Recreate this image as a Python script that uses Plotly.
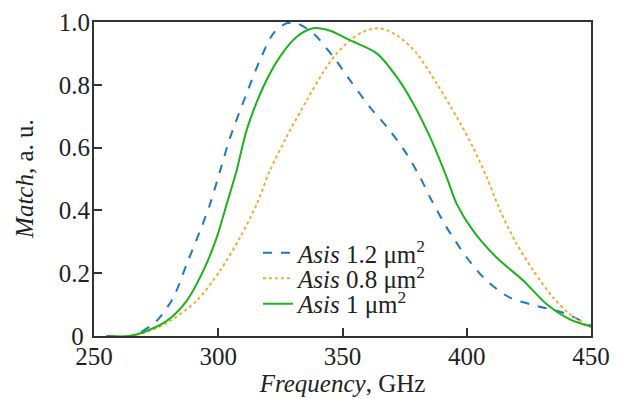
import plotly.graph_objects as go

freq_blue = [255, 264.5, 268.5, 275.2, 281.9, 287.3, 292.7, 296.7, 300.7, 304.7, 311.4, 316.8, 322.2, 327.5, 331.6, 338.2, 346.3, 353, 361, 369, 375.8, 381.2, 385.2, 391.9, 400, 408, 417.4, 428.1, 438.9, 450]
match_blue = [0, 0.0, 0.011, 0.048, 0.122, 0.229, 0.335, 0.42, 0.525, 0.63, 0.772, 0.879, 0.964, 0.996, 0.996, 0.964, 0.889, 0.815, 0.729, 0.655, 0.58, 0.506, 0.442, 0.346, 0.25, 0.176, 0.122, 0.096, 0.074, 0.033]

freq_orange = [255, 264.5, 272.5, 280.6, 291.3, 300.7, 308.8, 315.5, 320.8, 327.5, 335.6, 343.6, 347.7, 353, 358.4, 365, 371.8, 379.9, 387.9, 396, 402.6, 408, 413.4, 420.1, 426.8, 434.8, 441.5, 450]
match_orange = [0, 0.0, 0.016, 0.048, 0.112, 0.208, 0.314, 0.42, 0.527, 0.634, 0.751, 0.857, 0.9, 0.942, 0.969, 0.98, 0.958, 0.9, 0.804, 0.697, 0.60, 0.506, 0.40, 0.293, 0.208, 0.122, 0.069, 0.028]

freq_green = [255, 264.5, 271.2, 279.3, 287.3, 294, 299.4, 303.4, 307.4, 311.4, 318.1, 324.8, 331.6, 338.2, 345, 353, 363.8, 371.8, 378.5, 385.2, 391.9, 396, 402.6, 412, 422.8, 432.2, 441.5, 450]
match_green = [0, 0.0, 0.016, 0.048, 0.112, 0.208, 0.314, 0.42, 0.527, 0.655, 0.793, 0.889, 0.953, 0.980, 0.972, 0.942, 0.9, 0.825, 0.74, 0.634, 0.506, 0.42, 0.335, 0.25, 0.176, 0.101, 0.053, 0.03]

x_ticks = [250, 300, 350, 400, 450]
y_ticks = [0, 0.2, 0.4, 0.6, 0.8, 1.0]
y_tick_labels = ["0\u00a0", "0.2", "0.4", "0.6", "0.8", "1.0"]

FONT = "Liberation Serif, Times New Roman, serif"
TXT = "#222222"
FS = 25
TFS = 25

fig = go.Figure()
fig.add_trace(go.Scatter(x=freq_blue, y=match_blue, mode="lines", line_shape="spline",
                         line=dict(color="#1f78c1", width=2, dash="dash", smoothing=0.8),
                         name="<i>Asis</i> 1.2 μm<sup>2</sup>", legend="legend"))
fig.add_trace(go.Scatter(x=freq_orange, y=match_orange, mode="lines", line_shape="spline",
                         line=dict(color="#f7a832", width=2, dash="dot", smoothing=0.8),
                         name="<i>Asis</i> 0.8 μm<sup>2</sup>", legend="legend2"))
fig.add_trace(go.Scatter(x=freq_green, y=match_green, mode="lines", line_shape="spline",
                         line=dict(color="#1db31d", width=2, smoothing=0.8),
                         name="<i>Asis</i> 1 μm<sup>2</sup>", legend="legend3"))

leg_common = dict(x=0.330, xanchor="left", yanchor="middle", bgcolor="rgba(0,0,0,0)",
                  itemwidth=30, font=dict(family=FONT, size=FS, color=TXT))

fig.update_layout(
    width=622, height=399,
    margin=dict(l=94, r=31, t=22, b=63),
    paper_bgcolor="white", plot_bgcolor="white",
    font=dict(family=FONT, size=FS, color=TXT),
    showlegend=True,
    legend=dict(y=0.264, **leg_common),
    legend2=dict(y=0.183, **leg_common),
    legend3=dict(y=0.102, **leg_common),
    annotations=[dict(text="<i>Match</i>, a. u.", xref="paper", yref="paper", x=-0.141, y=0.5,
                      xanchor="center", yanchor="middle", textangle=-90, showarrow=False,
                      font=dict(family=FONT, size=TFS, color=TXT))],
)
fig.update_xaxes(range=[250, 450], tickvals=x_ticks, ticks="inside", ticklen=8, tickwidth=1.5,
                 tickcolor="#333", showline=True, linecolor="#333", linewidth=2, mirror=True,
                 showgrid=False, zeroline=False, automargin=False, ticklabelstandoff=-3,
                 title=dict(text="<i>Frequency</i>, GHz", standoff=0, font=dict(size=TFS)))
fig.update_yaxes(range=[0, 1.0], tickvals=y_ticks, ticktext=y_tick_labels, ticks="inside", ticklen=8,
                 tickwidth=1.5, tickcolor="#333", showline=True, linecolor="#333", linewidth=2, mirror=True,
                 showgrid=False, zeroline=False, automargin=False, ticklabelstandoff=-3)

fig.write_html("out.html", config={"displayModeBar": False},
               post_script="document.body.style.margin='0';")
